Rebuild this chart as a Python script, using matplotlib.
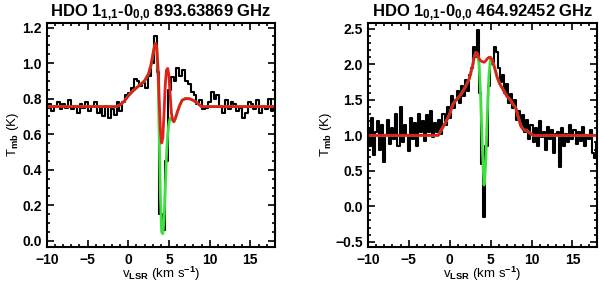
import numpy as np
import matplotlib
matplotlib.use("Agg")
import matplotlib.pyplot as plt
from matplotlib.ticker import MultipleLocator

plt.rcParams["font.family"] = ["Liberation Sans", "DejaVu Sans"]
plt.rcParams["font.weight"] = "bold"
plt.rcParams["mathtext.fontset"] = "custom"
plt.rcParams["mathtext.rm"] = "Liberation Sans:bold"
plt.rcParams["mathtext.it"] = "Liberation Sans:bold"
plt.rcParams["mathtext.bf"] = "Liberation Sans:bold"
plt.rcParams["mathtext.default"] = "rm"

# --- HDO 1_11-0_00 (893 GHz): observed spectrum, 0.35 km/s channels from -10
obs1_T = [0.75, 0.77, 0.73, 0.76, 0.78, 0.74, 0.77, 0.75, 0.79, 0.74,
          0.76, 0.72, 0.77, 0.75, 0.78, 0.73, 0.76, 0.78, 0.72, 0.75,
          0.70, 0.76, 0.69, 0.74, 0.71, 0.78, 0.73, 0.78, 0.82, 0.83,
          0.86, 0.91, 0.90, 0.87, 0.89, 0.86, 0.93, 1.00, 1.15, 0.95,
          0.15, 0.06, 0.45, 0.85, 0.92, 0.90, 0.97, 0.93, 0.96, 0.90,
          0.88, 0.84, 0.82, 0.77, 0.79, 0.74, 0.75, 0.78, 0.84, 0.80,
          0.82, 0.76, 0.72, 0.79, 0.74, 0.78, 0.77, 0.73, 0.75, 0.69,
          0.72, 0.78, 0.77, 0.74, 0.79, 0.72, 0.76, 0.74, 0.80, 0.73,
          0.76]
obs1_v0, obs1_dv = -10.0, 0.35

# model without / with absorbing layer
mod1_v = [-10, -1.5, -1.0, -0.5, 0.0, 0.5, 1.0, 1.5, 2.0, 2.5, 2.8, 3.0, 3.2,
          3.35, 3.5, 3.65, 3.8, 3.95, 4.1, 4.25, 4.4, 4.55, 4.7, 4.85, 5.0,
          5.15, 5.3, 5.45, 5.6, 5.8, 6.0, 6.3, 6.6, 7.0, 7.5, 8.0, 8.5, 9.0, 18]
red1_T = [0.755, 0.755, 0.765, 0.785, 0.815, 0.84, 0.86, 0.88, 0.90, 0.94,
          0.99, 1.04, 1.09, 1.11, 1.09, 0.98, 0.80, 0.62, 0.55, 0.58, 0.72,
          0.88, 0.96, 0.97, 0.93, 0.82, 0.72, 0.68, 0.67, 0.69, 0.72, 0.76,
          0.79, 0.80, 0.80, 0.79, 0.775, 0.755, 0.755]
green1_T = [0.755, 0.755, 0.765, 0.785, 0.815, 0.84, 0.86, 0.88, 0.90, 0.94,
            0.99, 1.04, 1.09, 1.11, 1.08, 0.95, 0.62, 0.25, 0.05, 0.04, 0.12,
            0.30, 0.48, 0.60, 0.66, 0.69, 0.69, 0.68, 0.67, 0.69, 0.72, 0.76,
            0.79, 0.80, 0.80, 0.79, 0.775, 0.755, 0.755]

# --- HDO 1_01-0_00 (465 GHz): observed spectrum, 0.25 km/s channels from -10
obs2_T = [1.10, 0.85, 1.25, 0.72, 1.05, 1.20, 0.80, 1.15, 0.62, 1.00,
          1.22, 0.88, 1.10, 0.95, 1.30, 0.85, 1.40, 0.90, 1.15, 1.00,
          0.78, 1.25, 0.95, 1.18, 0.85, 1.30, 1.05, 1.20, 0.92, 1.28,
          1.05, 1.35, 0.98, 1.18, 1.05, 1.22, 1.02, 1.30, 1.15, 1.40,
          1.25, 1.55, 1.38, 1.50, 1.62, 1.45, 1.70, 1.55, 1.78, 1.62,
          1.85, 1.95, 2.25, 2.10, 2.48, 1.60, 0.60, -0.15, 0.85, 1.70,
          2.05, 2.00, 2.25, 2.18, 1.95, 1.75, 1.85, 1.60, 1.72, 1.45,
          1.58, 1.38, 1.50, 1.22, 1.35, 1.15, 1.28, 1.05, 1.22, 0.95,
          1.15, 0.90, 1.10, 0.85, 1.20, 0.98, 1.05, 0.80, 1.12, 0.95,
          1.08, 0.75, 1.02, 1.05, 0.55, 1.10, 0.85, 1.02, 0.90, 1.15,
          0.95, 1.08, 0.88, 1.05, 0.92, 1.12, 0.85, 1.00, 0.95, 1.08,
          0.75, 0.68, 0.90]
obs2_v0, obs2_dv = -10.0, 0.25

mod2_v = [-10, -1.4, -1.0, -0.5, 0.0, 0.4, 0.8, 1.2, 1.6, 2.0, 2.4, 2.8, 3.0,
          3.2, 3.4, 3.6, 3.8, 4.0, 4.2, 4.4, 4.6, 4.8, 5.0, 5.2, 5.5, 5.8,
          6.1, 6.5, 7.0, 7.4, 7.8, 8.1, 8.4, 8.7, 9.0, 9.4, 9.8, 10.2, 18]
red2_T = [1.0, 1.0, 1.08, 1.18, 1.30, 1.44, 1.50, 1.55, 1.62, 1.70, 1.80,
          1.98, 2.10, 2.17, 2.15, 2.08, 2.05, 2.04, 2.03, 2.05, 2.08, 2.10,
          2.10, 2.06, 1.95, 1.82, 1.73, 1.65, 1.55, 1.50, 1.43, 1.38, 1.25,
          1.13, 1.08, 1.07, 1.03, 1.0, 1.0]
green2_T = [1.0, 1.0, 1.08, 1.18, 1.30, 1.44, 1.50, 1.55, 1.62, 1.70, 1.80,
            1.98, 2.10, 2.17, 2.15, 2.00, 1.50, 0.80, 0.30, 0.60, 1.30, 1.85,
            2.08, 2.06, 1.95, 1.82, 1.73, 1.65, 1.55, 1.50, 1.43, 1.38, 1.25,
            1.13, 1.08, 1.07, 1.03, 1.0, 1.0]

titles = [r"HDO 1$_{1{,}1}$-0$_{0{,}0}$ 893.63869 GHz",
          r"HDO 1$_{0{,}1}$-0$_{0{,}0}$ 464.92452 GHz"]

RED = "#e0201a"
GREEN = "#3ee03e"


def draw_panel(ax, obs_T, v0, dv, mod_v, green_T, red_T, title):
    v = v0 + dv * np.arange(len(obs_T))
    ax.step(v, obs_T, where="mid", color="black", lw=1.5)
    ax.plot(mod_v, green_T, color=GREEN, lw=2.0)
    ax.plot(mod_v, red_T, color=RED, lw=2.0)
    ax.set_xlim(-10, 18)
    ax.xaxis.set_major_locator(MultipleLocator(5))
    ax.xaxis.set_minor_locator(MultipleLocator(1))
    ax.tick_params(which="both", direction="in", top=True, right=True,
                   labelsize=10, width=1.2)
    ax.tick_params(which="major", length=5)
    ax.tick_params(which="minor", length=2.5)
    ax.tick_params(axis="x", pad=4)
    for s in ax.spines.values():
        s.set_linewidth(1.5)
    ax.set_xlabel(r"v$_{LSR}$ (km s$^{-1}$)", fontsize=9.5, labelpad=-1)
    ax.set_ylabel(r"T$_{mb}$ (K)", fontsize=9.5, labelpad=1)
    ax.set_title(title, fontsize=12, fontweight="bold", pad=3)


fig = plt.figure(figsize=(6.0, 2.83), dpi=100)
ax1 = fig.add_axes([0.078, 0.127, 0.380, 0.792])
ax2 = fig.add_axes([0.613, 0.127, 0.382, 0.792])

draw_panel(ax1, obs1_T, obs1_v0, obs1_dv, mod1_v, green1_T, red1_T, titles[0])
ax1.set_ylim(-0.035, 1.226)
ax1.yaxis.set_major_locator(MultipleLocator(0.2))
ax1.yaxis.set_minor_locator(MultipleLocator(0.05))

draw_panel(ax2, obs2_T, obs2_v0, obs2_dv, mod2_v, green2_T, red2_T, titles[1])
ax2.set_ylim(-0.575, 2.585)
ax2.yaxis.set_major_locator(MultipleLocator(0.5))
ax2.yaxis.set_minor_locator(MultipleLocator(0.1))

fig.savefig("out.png", dpi=100)
